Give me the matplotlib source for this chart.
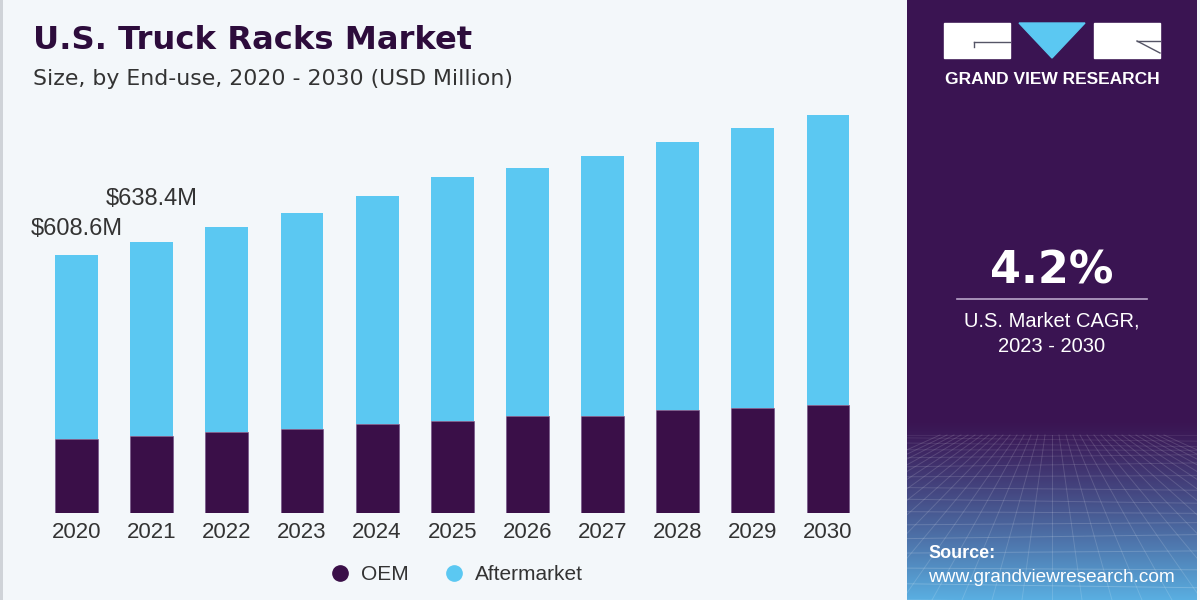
import numpy as np
import matplotlib.pyplot as plt
from matplotlib.colors import to_rgb
from matplotlib.lines import Line2D
from matplotlib.patches import Rectangle, Polygon

plt.rcParams['font.family'] = ['Liberation Sans', 'DejaVu Sans']

years = ["2020", "2021", "2022", "2023", "2024", "2025", "2026", "2027", "2028", "2029", "2030"]
oem = [174, 181, 190, 197, 209, 217, 228, 228, 242, 246, 255]
aftermarket = [434.6, 457.4, 484, 510, 540, 575, 587, 615, 633, 664, 684]
value_labels = ["$608.6M", "$638.4M"]
cagr = "4.2%"

BG = "#f3f7fa"
OEM_C = "#3a0f48"
AFT_C = "#5bc8f2"
PANEL = "#3a1452"

fig = plt.figure(figsize=(12, 6), dpi=100, facecolor=BG)

# main chart
ax = fig.add_axes([20 / 1200, 1 - 512.5 / 600, 860 / 1200, 412.5 / 600])
ax.set_facecolor("none")
x = np.arange(len(years))
totals = np.array(oem) + np.array(aftermarket)
ax.bar(x, oem, width=0.57, color=OEM_C, edgecolor="#6b4a80", linewidth=0.4)
ax.bar(x, aftermarket, bottom=oem, width=0.57, color=AFT_C, linewidth=0)
ax.set_xlim(-0.752, 10.692)
ax.set_ylim(0, 975)
ax.set_xticks(x, years, fontsize=16, color="#333333")
ax.tick_params(axis="x", length=0, pad=7)
ax.set_yticks([])
for s in ax.spines.values():
    s.set_visible(False)

ax.annotate(value_labels[0], (x[0], totals[0]), xytext=(0, 11), textcoords="offset points",
            ha="center", va="bottom", fontsize=17, color="#333333")
ax.annotate(value_labels[1], (x[1], totals[1]), xytext=(0, 23), textcoords="offset points",
            ha="center", va="bottom", fontsize=17, color="#333333")

# titles
fig.text(33 / 1200, 1 - 49 / 600, "U.S. Truck Racks Market", fontsize=23.2, fontweight="bold",
         color="#2d0c3c", va="baseline", family="DejaVu Sans")
fig.text(33 / 1200, 1 - 85 / 600, "Size, by End-use, 2020 - 2030 (USD Million)", fontsize=15.8,
         color="#333333", va="baseline", family="DejaVu Sans")

# legend
handles = [Line2D([], [], marker="o", ls="", markersize=11, color=OEM_C),
           Line2D([], [], marker="o", ls="", markersize=11, color=AFT_C)]
fig.legend(handles, ["OEM", "Aftermarket"], loc="center", bbox_to_anchor=(454 / 1200, 1 - 575 / 600),
           ncol=2, frameon=False, fontsize=15, handletextpad=0.3, columnspacing=1.5,
           handlelength=1.4, labelcolor="#333333")

# thin left border
fig.add_artist(Rectangle((0, 0), 2.5 / 1200, 1, transform=fig.transFigure, color="#cfd3d8", lw=0))

# right panel
axp = fig.add_axes([907 / 1200, 0, 290 / 1200, 1])
axp.set_xlim(0, 290)
axp.set_ylim(600, 0)
axp.axis("off")
top = np.array(to_rgb(PANEL))
bot = np.array(to_rgb("#5ab0e2"))
rows = np.arange(600)
t = np.clip((rows - 420) / 180, 0, 1) ** 1.2
grad = top[None, :] * (1 - t[:, None]) + bot[None, :] * t[:, None]
axp.imshow(np.repeat(grad[:, None, :], 2, axis=1), extent=[0, 290, 600, 0], aspect="auto", zorder=0)

# decorative mesh
for k in range(16):
    yy = 435 + 165 * (k / 15) ** 1.5
    axp.plot([0, 290], [yy, yy + 4 * np.sin(k)], color="white", alpha=0.08 + 0.12 * k / 15, lw=0.7, zorder=1)
for k in range(-16, 17):
    axp.plot([145 + k * 7, 145 + k * 30], [435, 600], color="white", alpha=0.14, lw=0.7, zorder=1)

# logo
axp.add_patch(Rectangle((37, 23), 66, 35, color="white", zorder=2))
axp.add_patch(Rectangle((187, 23), 66, 35, color="white", zorder=2))
axp.add_patch(Polygon([(112, 23), (178, 23), (145, 58)], closed=True, color=AFT_C, zorder=2))
axp.plot([67, 103], [42, 42], color="#555566", lw=1, zorder=3)
axp.plot([67, 67], [42, 47], color="#555566", lw=1, zorder=3)
axp.plot([230, 253], [41, 41], color="#555566", lw=1, zorder=3)
axp.plot([230, 253], [41, 53], color="#555566", lw=1, zorder=3)
axp.text(145, 79, "GRAND VIEW RESEARCH", ha="center", va="center", color="white",
         fontsize=12.5, fontweight="bold")

axp.text(145, 284, cagr, ha="center", va="baseline", color="white", fontsize=32, fontweight="bold",
         family="DejaVu Sans")
axp.plot([50, 240], [299, 299], color="#b9a6c9", lw=1.2)
axp.text(145, 321, "U.S. Market CAGR,", ha="center", va="center", color="white", fontsize=14.5)
axp.text(145, 347, "2023 - 2030", ha="center", va="center", color="white", fontsize=14.5)

axp.text(21, 553, "Source:", ha="left", va="center", color="white", fontsize=13, fontweight="bold")
axp.text(21, 577, "www.grandviewresearch.com", ha="left", va="center", color="white", fontsize=13.7)

fig.savefig("out.png", dpi=100, facecolor=BG)
